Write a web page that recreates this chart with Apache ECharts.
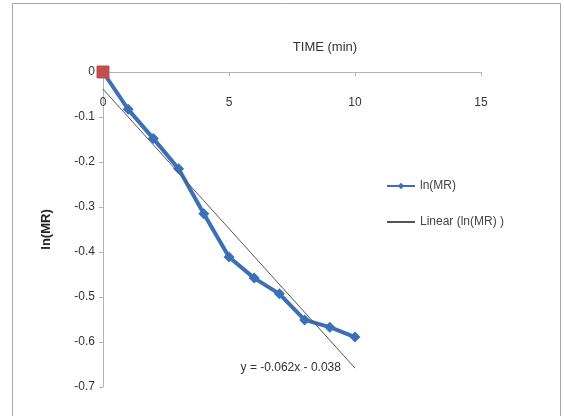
<!DOCTYPE html>
<html>
<head>
<meta charset="utf-8">
<script src="https://cdn.jsdelivr.net/npm/echarts@6/dist/echarts.min.js"></script>
<style>
  html, body { margin: 0; padding: 0; background: #fff; }
  #chart { width: 564px; height: 416px; }
</style>
</head>
<body>
<div id="chart"></div>
<script>
  // time in minutes and measured ln(MR)
  var timeMin = [0, 1, 2, 3, 4, 5, 6, 7, 8, 9, 10]
  var lnMR = [0, -0.083, -0.148, -0.215, -0.315, -0.411, -0.458, -0.493, -0.551, -0.567, -0.589]
  // linear trendline end points
  var trendX = [0, 10]
  var trendY = [-0.038, -0.658]
  var trendLabel = 'y = -0.062x - 0.038'

  var font = "'Liberation Sans', Arial, sans-serif"

  var chart = echarts.init(document.getElementById('chart'))

  var mainData = timeMin.map(function (t, i) {
    var item = { value: [t, lnMR[i]] }
    if (i === 0) {
      item.symbol = 'rect'
      item.symbolSize = 12
      item.itemStyle = { color: '#c0504d', borderColor: '#c0504d' }
    }
    return item
  })

  var trendData = trendX.map(function (t, i) {
    var item = { value: [t, trendY[i]] }
    if (i === trendX.length - 1) {
      item.label = {
        show: true,
        position: 'left',
        distance: 14,
        formatter: trendLabel,
        color: '#333',
        fontSize: 12,
        fontFamily: font
      }
    }
    return item
  })

  var option = {
    animation: false,
    textStyle: { fontFamily: font },
    title: {
      text: 'TIME (min)',
      left: 320,
      top: 36,
      textAlign: 'center',
      textStyle: { fontSize: 13, fontWeight: 'normal', color: '#333', fontFamily: font }
    },
    legend: {
      orient: 'vertical',
      left: 381,
      top: 175,
      itemGap: 24,
      itemWidth: 28,
      itemHeight: 8,
      textStyle: { fontSize: 12, color: '#444', fontFamily: font },
      data: [
        { name: 'ln(MR)' },
        { name: 'Linear (ln(MR) )', itemStyle: { opacity: 0 } }
      ]
    },
    graphic: [{
      type: 'rect',
      shape: { x: 12.5, y: 3.5, width: 548, height: 430 },
      style: { fill: 'none', stroke: '#a6a6a6', lineWidth: 1 },
      silent: true
    }],
    grid: { left: 103, right: 83, top: 72, bottom: 29 },
    xAxis: {
      type: 'value',
      position: 'top',
      min: 0,
      max: 15,
      interval: 5,
      splitLine: { show: false },
      axisLine: { lineStyle: { color: '#b3b3b3', width: 1 } },
      axisTick: { show: true, inside: true, length: 4, lineStyle: { color: '#b3b3b3' } },
      axisLabel: { inside: true, margin: 25, fontSize: 12, color: '#333', fontFamily: font }
    },
    yAxis: {
      type: 'value',
      min: -0.7,
      max: 0,
      interval: 0.1,
      name: 'ln(MR)',
      nameLocation: 'middle',
      nameGap: 50,
      nameTextStyle: { fontSize: 13, fontWeight: 'bold', color: '#222', fontFamily: font },
      splitLine: { show: false },
      axisLine: { show: true, onZero: false, lineStyle: { color: '#b3b3b3', width: 1 } },
      axisTick: { show: true, length: 4, lineStyle: { color: '#b3b3b3' } },
      axisLabel: { fontSize: 12, color: '#333', margin: 8, fontFamily: font }
    },
    series: [{
      name: 'ln(MR)',
      type: 'line',
      data: mainData,
      symbol: 'diamond',
      symbolSize: 11,
      lineStyle: { color: '#3c70b6', width: 4 },
      itemStyle: { color: '#3c70b6' },
      z: 2
    }, {
      name: 'Linear (ln(MR) )',
      type: 'line',
      data: trendData,
      symbol: 'circle',
      symbolSize: 0.1,
      showSymbol: true,
      lineStyle: { color: '#555', width: 1 },
      itemStyle: { color: '#555' },
      z: 3
    }]
  }

  chart.setOption(option)
</script>
</body>
</html>
